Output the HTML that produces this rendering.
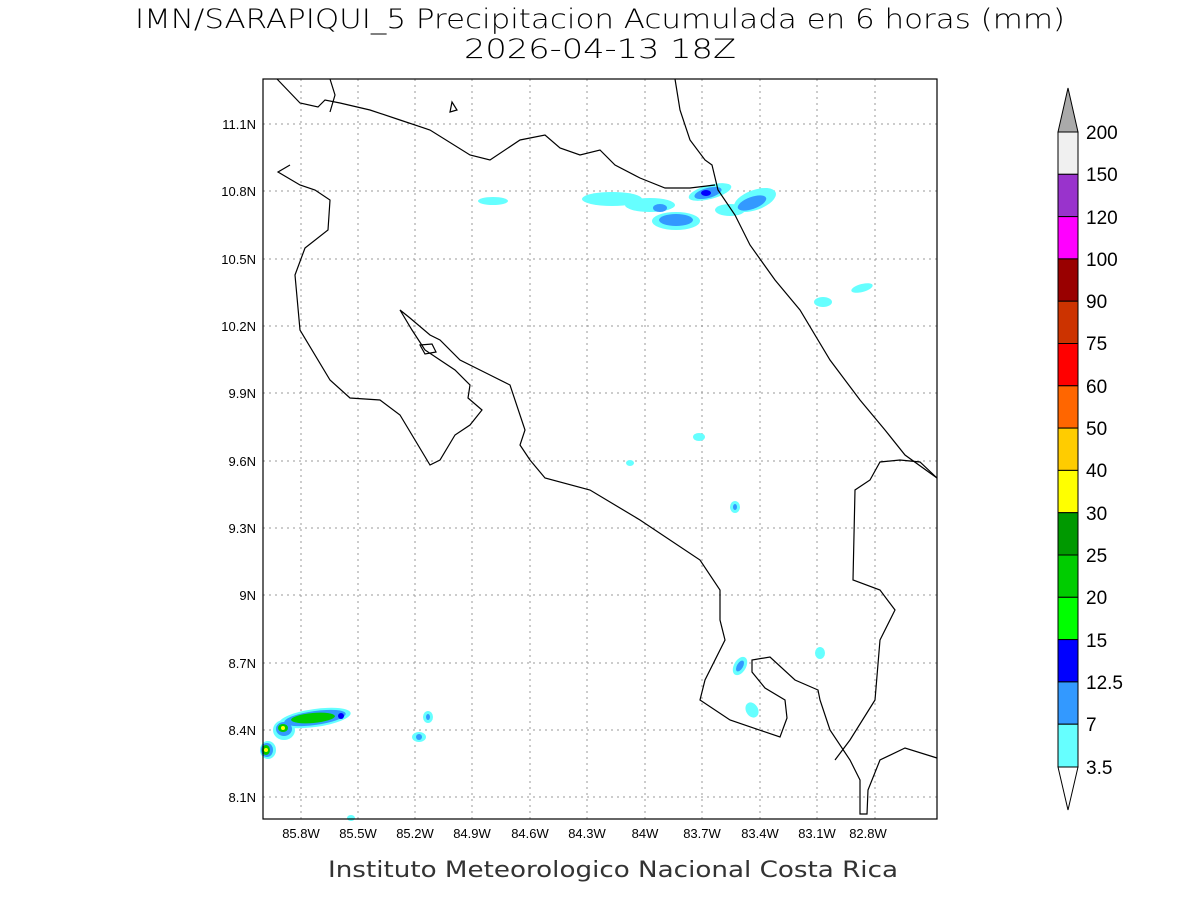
<!DOCTYPE html>
<html><head><meta charset="utf-8"><style>
body{margin:0;background:#fff;width:1200px;height:900px;overflow:hidden}
text{font-family:"Liberation Sans",sans-serif}
</style></head><body>
<svg width="1200" height="900" xmlns="http://www.w3.org/2000/svg">
<text x="600" y="28" font-size="27" text-anchor="middle" style="font-family:'DejaVu Sans',sans-serif;font-weight:200" textLength="930" lengthAdjust="spacingAndGlyphs">IMN/SARAPIQUI_5 Precipitacion Acumulada en 6 horas (mm)</text>
<text x="600" y="58" font-size="27" text-anchor="middle" style="font-family:'DejaVu Sans',sans-serif;font-weight:200" textLength="272" lengthAdjust="spacingAndGlyphs">2026-04-13 18Z</text>
<text x="613" y="877" font-size="22" text-anchor="middle" style="font-family:'DejaVu Sans',sans-serif" textLength="570" lengthAdjust="spacingAndGlyphs" fill="#333">Instituto Meteorologico Nacional Costa Rica</text>
<g stroke="#999" stroke-width="1" stroke-dasharray="2,4">
<line x1="301" y1="79" x2="301" y2="819"/><line x1="358" y1="79" x2="358" y2="819"/><line x1="415" y1="79" x2="415" y2="819"/><line x1="472" y1="79" x2="472" y2="819"/><line x1="530" y1="79" x2="530" y2="819"/><line x1="587" y1="79" x2="587" y2="819"/><line x1="645" y1="79" x2="645" y2="819"/><line x1="702" y1="79" x2="702" y2="819"/><line x1="760" y1="79" x2="760" y2="819"/><line x1="817" y1="79" x2="817" y2="819"/><line x1="875" y1="79" x2="875" y2="819"/>
<line x1="263" y1="124" x2="937" y2="124"/><line x1="263" y1="191" x2="937" y2="191"/><line x1="263" y1="259" x2="937" y2="259"/><line x1="263" y1="326" x2="937" y2="326"/><line x1="263" y1="393" x2="937" y2="393"/><line x1="263" y1="461" x2="937" y2="461"/><line x1="263" y1="528" x2="937" y2="528"/><line x1="263" y1="595" x2="937" y2="595"/><line x1="263" y1="663" x2="937" y2="663"/><line x1="263" y1="730" x2="937" y2="730"/><line x1="263" y1="797" x2="937" y2="797"/>
</g>
<g font-size="13" text-anchor="end">
<text x="256" y="129">11.1N</text><text x="256" y="196">10.8N</text><text x="256" y="264">10.5N</text><text x="256" y="331">10.2N</text><text x="256" y="398">9.9N</text><text x="256" y="466">9.6N</text><text x="256" y="533">9.3N</text><text x="256" y="600">9N</text><text x="256" y="668">8.7N</text><text x="256" y="735">8.4N</text><text x="256" y="802">8.1N</text>
</g>
<g font-size="13" text-anchor="middle">
<text x="301" y="838">85.8W</text><text x="358" y="838">85.5W</text><text x="415" y="838">85.2W</text><text x="472" y="838">84.9W</text><text x="530" y="838">84.6W</text><text x="587" y="838">84.3W</text><text x="645" y="838">84W</text><text x="702" y="838">83.7W</text><text x="760" y="838">83.4W</text><text x="817" y="838">83.1W</text><text x="868" y="838">82.8W</text>
</g>
<g>
<ellipse cx="612" cy="199" rx="30" ry="7" fill="#66ffff"/>
<ellipse cx="650" cy="205" rx="25" ry="7" fill="#66ffff"/>
<ellipse cx="755" cy="200" rx="22" ry="10" fill="#66ffff" transform="rotate(-20 755 200)"/>
<ellipse cx="730" cy="210" rx="15" ry="6" fill="#66ffff"/>
<ellipse cx="710" cy="192" rx="22" ry="7" fill="#66ffff" transform="rotate(-15 710 192)"/>
<ellipse cx="676" cy="221" rx="24" ry="9" fill="#66ffff"/>
<ellipse cx="676" cy="220" rx="17" ry="6" fill="#3399ff"/>
<ellipse cx="708" cy="193" rx="14" ry="5" fill="#3399ff" transform="rotate(-15 708 193)"/>
<ellipse cx="706" cy="193" rx="5" ry="3" fill="#0000ff"/>
<ellipse cx="752" cy="203" rx="15" ry="6" fill="#3399ff" transform="rotate(-20 752 203)"/>
<ellipse cx="660" cy="208" rx="7" ry="4" fill="#3399ff"/>
<ellipse cx="493" cy="201" rx="15" ry="4" fill="#66ffff"/>
<ellipse cx="823" cy="302" rx="9" ry="5" fill="#66ffff"/>
<ellipse cx="862" cy="288" rx="11" ry="4" fill="#66ffff" transform="rotate(-15 862 288)"/>
<ellipse cx="699" cy="437" rx="6" ry="4" fill="#66ffff"/>
<ellipse cx="630" cy="463" rx="4" ry="3" fill="#66ffff"/>
<ellipse cx="735" cy="507" rx="5" ry="6" fill="#66ffff"/><ellipse cx="735" cy="507" rx="2" ry="3" fill="#3399ff"/>
<ellipse cx="740" cy="666" rx="6" ry="10" fill="#66ffff" transform="rotate(30 740 666)"/><ellipse cx="740" cy="666" rx="3" ry="6" fill="#3399ff" transform="rotate(30 740 666)"/>
<ellipse cx="752" cy="710" rx="6" ry="8" fill="#66ffff" transform="rotate(-30 752 710)"/>
<ellipse cx="820" cy="653" rx="5" ry="6" fill="#66ffff"/>
<ellipse cx="428" cy="717" rx="5" ry="6" fill="#66ffff"/><ellipse cx="428" cy="717" rx="2" ry="3" fill="#3399ff"/>
<ellipse cx="419" cy="737" rx="7" ry="5" fill="#66ffff"/><ellipse cx="419" cy="737" rx="3" ry="3" fill="#3399ff"/>
<ellipse cx="351" cy="818" rx="4" ry="3" fill="#66ffff"/>
<ellipse cx="315" cy="718" rx="36" ry="9" fill="#66ffff" transform="rotate(-8 315 718)"/>
<ellipse cx="284" cy="730" rx="11" ry="10" fill="#66ffff"/>
<ellipse cx="268" cy="750" rx="8" ry="9" fill="#66ffff"/>
<ellipse cx="315" cy="718" rx="31" ry="7" fill="#3399ff" transform="rotate(-8 315 718)"/>
<ellipse cx="284" cy="729" rx="8" ry="7" fill="#3399ff"/>
<ellipse cx="267" cy="750" rx="6" ry="7" fill="#3399ff"/>
<ellipse cx="313" cy="718" rx="22" ry="5" fill="#00cc00" transform="rotate(-5 313 718)"/>
<ellipse cx="283" cy="728" rx="5" ry="4" fill="#00cc00"/>
<ellipse cx="266" cy="750" rx="4" ry="5" fill="#00cc00"/>
<ellipse cx="266" cy="750" rx="2" ry="2" fill="#ffff00"/>
<ellipse cx="283" cy="728" rx="2" ry="2" fill="#ffff00"/>
<ellipse cx="341" cy="716" rx="3" ry="3" fill="#0000ff"/>
</g>
<g fill="none" stroke="#000" stroke-width="1.2">
<path d="M277,79 L300,103 L318,107 L325,100 L340,103 L370,110 L400,120 L430,130 L470,155 L490,160 L520,140 L545,135 L560,148 L580,155 L600,150 L615,165 L640,178 L665,188 L690,188 L715,185"/>
<path d="M675,79 L680,110 L690,140 L705,160 L712,165 L718,190 L735,215 L750,245 L775,280 L800,310 L830,360 L860,400 L885,430 L905,455 L937,478"/>
<path d="M330,79 L335,95 L330,112"/>
<path d="M450,112 L452,102 L457,110 Z"/>
<path d="M290,165 L278,172 L300,185 L315,190 L330,200 L328,230 L305,248 L295,275 L300,330 L330,380 L350,398 L380,400 L400,415 L430,465 L440,460 L455,435 L470,425 L482,410 L468,398 L470,385 L455,370 L440,360 L425,350 L412,330 L400,310 L410,318 L430,335 L440,340 L460,360 L490,375 L510,385 L525,430 L520,445 L530,460 L545,478 L590,490 L640,520 L700,560 L720,590 L720,620 L725,640 L705,680 L700,700 L730,720 L780,737 L787,718 L785,700 L765,688 L752,672 L752,660 L770,657 L795,680 L818,690 L820,700 L830,730 L850,760 L860,780 L860,814 L867,814 L868,790 L880,760 L905,748 L937,758"/>
<path d="M420,345 L432,344 L436,352 L425,354 Z"/>
<path d="M937,478 L920,462 L900,460 L880,462 L870,480 L855,490 L853,580 L880,590 L895,610 L880,640 L875,700 L850,740 L835,760"/>
</g>
<rect x="263" y="79" width="674" height="740" fill="none" stroke="#000" stroke-width="1.2"/>
<g stroke="#000" stroke-width="1">
<polygon points="1058,132 1078,132 1068,88" fill="#aaaaaa"/>
<rect x="1058" y="132" width="20" height="42.3" fill="#f0f0f0"/>
<rect x="1058" y="174.3" width="20" height="42.3" fill="#9933cc"/>
<rect x="1058" y="216.6" width="20" height="42.3" fill="#ff00ff"/>
<rect x="1058" y="258.9" width="20" height="42.3" fill="#990000"/>
<rect x="1058" y="301.2" width="20" height="42.3" fill="#cc3300"/>
<rect x="1058" y="343.5" width="20" height="42.3" fill="#ff0000"/>
<rect x="1058" y="385.8" width="20" height="42.3" fill="#ff6600"/>
<rect x="1058" y="428.1" width="20" height="42.3" fill="#ffcc00"/>
<rect x="1058" y="470.4" width="20" height="42.3" fill="#ffff00"/>
<rect x="1058" y="512.7" width="20" height="42.3" fill="#009900"/>
<rect x="1058" y="555" width="20" height="42.3" fill="#00cc00"/>
<rect x="1058" y="597.3" width="20" height="42.3" fill="#00ff00"/>
<rect x="1058" y="639.6" width="20" height="42.3" fill="#0000ff"/>
<rect x="1058" y="681.9" width="20" height="42.3" fill="#3399ff"/>
<rect x="1058" y="724.2" width="20" height="42.8" fill="#66ffff"/>
<polygon points="1058,767 1078,767 1068,810" fill="#fff"/>
</g>
<g font-size="19" style="font-family:'DejaVu Sans',sans-serif">
<text x="1086" y="139">200</text><text x="1086" y="181">150</text><text x="1086" y="224">120</text><text x="1086" y="266">100</text><text x="1086" y="308">90</text><text x="1086" y="350">75</text><text x="1086" y="393">60</text><text x="1086" y="435">50</text><text x="1086" y="477">40</text><text x="1086" y="520">30</text><text x="1086" y="562">25</text><text x="1086" y="604">20</text><text x="1086" y="647">15</text><text x="1086" y="689">12.5</text><text x="1086" y="731">7</text><text x="1086" y="774">3.5</text>
</g>
</svg>
</body></html>
